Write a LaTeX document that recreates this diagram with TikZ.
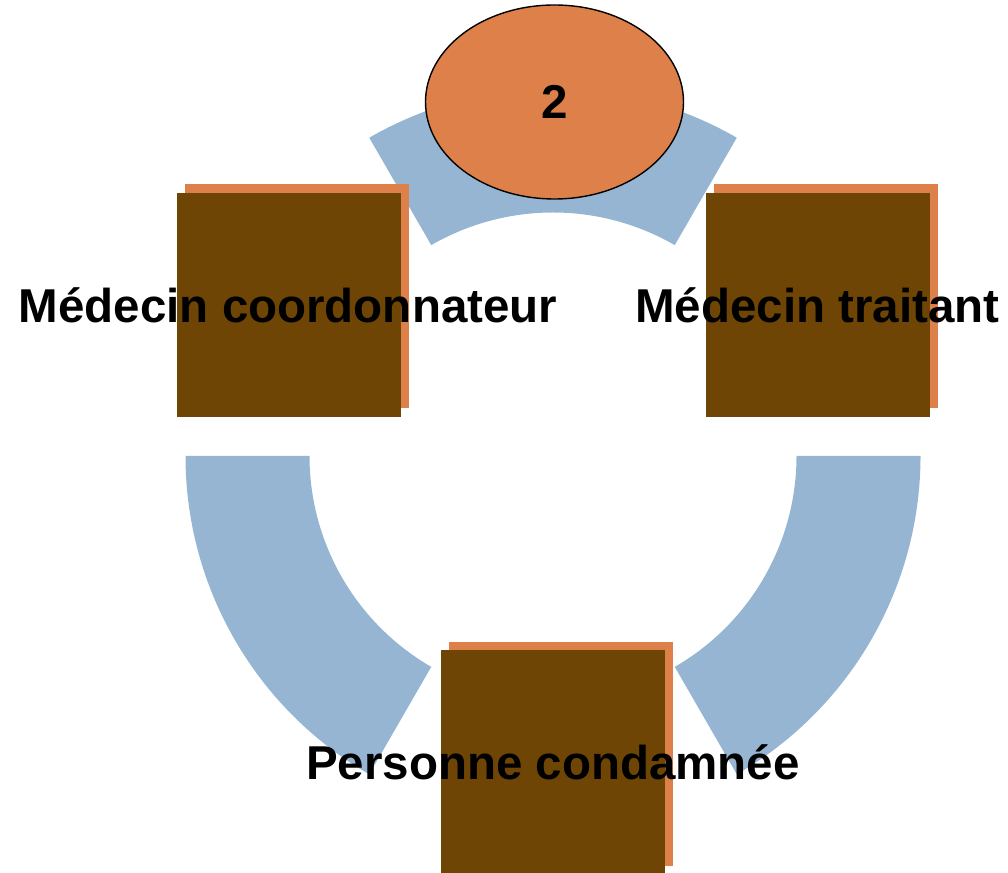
\documentclass[tikz,border=0pt]{standalone}
\usepackage{fontspec}
\setmainfont{Liberation Sans}
\usetikzlibrary{shapes.geometric}
\definecolor{ringblue}{HTML}{95B5D3}
\definecolor{boxorange}{HTML}{DE8049}
\definecolor{boxbrown}{HTML}{6F4506}
\tikzset{
  arcseg/.style={fill=ringblue},
  backbox/.style={rectangle, fill=boxorange, minimum width=224pt, minimum height=224pt, inner sep=0pt},
  frontbox/.style={rectangle, fill=boxbrown, minimum width=224pt, minimum height=224pt, inner sep=0pt},
  lbl/.style={font=\fontsize{47.5}{50}\selectfont\bfseries, text=black, inner sep=0pt},
  badge/.style={ellipse, draw=black, line width=1.4pt, fill=boxorange, minimum width=258pt, minimum height=194pt, inner sep=0pt, font=\fontsize{47.5}{50}\selectfont\bfseries}
}
\begin{document}
\begin{tikzpicture}[x=1pt,y=1pt]
\useasboundingbox (0,0) rectangle (1008,872);
% ring segments (centre at (553,416))
\begin{scope}[shift={(553,416)}]
\fill[arcseg] (60:367.5) arc[start angle=60, end angle=120, radius=367.5] -- (120:243.5) arc[start angle=120, end angle=60, radius=243.5] -- cycle;
\fill[arcseg] (180:367.5) arc[start angle=180, end angle=240, radius=367.5] -- (240:243.5) arc[start angle=240, end angle=180, radius=243.5] -- cycle;
\fill[arcseg] (300:367.5) arc[start angle=300, end angle=360, radius=367.5] -- (360:243.5) arc[start angle=360, end angle=300, radius=243.5] -- cycle;
\end{scope}
% boxes
\node[backbox] (lb) at (297,575.5) {};
\node[frontbox] (lf) at (289,567) {};
\node[backbox] (rb) at (826,575.5) {};
\node[frontbox] (rf) at (818,567) {};
\node[backbox] (bb) at (561,118) {};
\node[frontbox] (bf) at (553,110) {};
% labels
\node[lbl] (lt) at (288,567) {Médecin coordonnateur};
\node[lbl] (rt) at (817.5,567) {Médecin traitant};
\node[lbl] (bt) at (553,110) {Personne condamnée};
% badge
\node[badge] (num) at (554.5,770) {2};
\end{tikzpicture}
\end{document}
